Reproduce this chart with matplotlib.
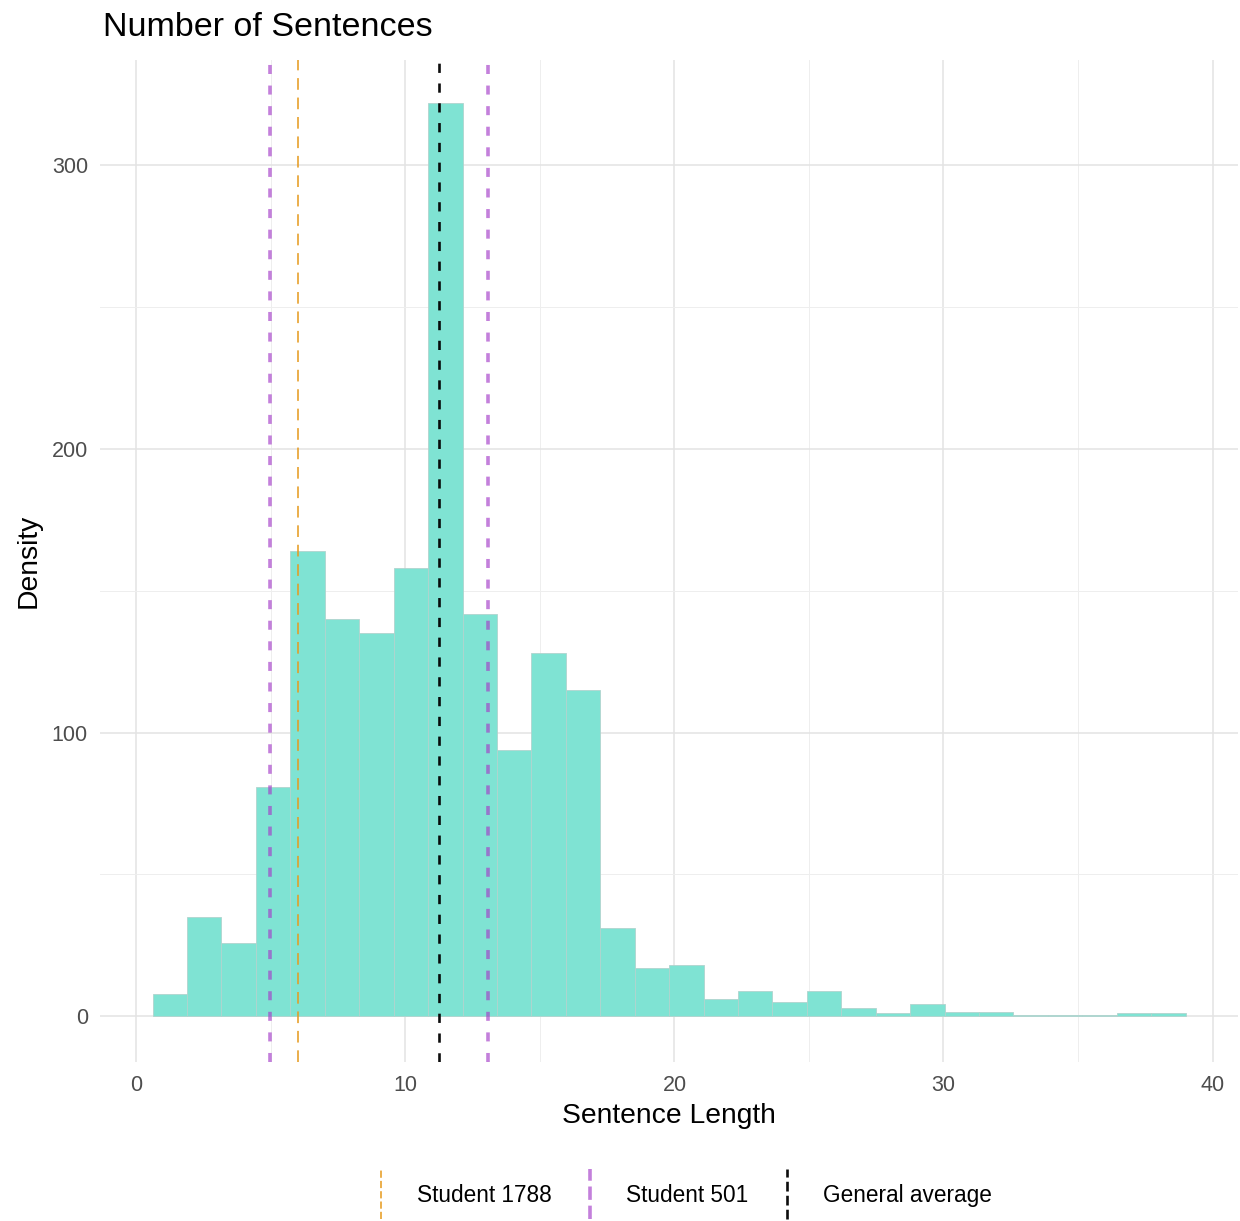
import matplotlib.pyplot as plt
import numpy as np
from matplotlib.legend_handler import HandlerBase
from matplotlib.lines import Line2D

plt.rcParams['font.family'] = ['Liberation Sans', 'DejaVu Sans']

# Histogram data
bin_lo = 0.6
bin_hi = 39.0
density = [8, 35, 26, 81, 164, 140, 135, 158, 322, 142,
           94, 128, 115, 31, 17, 18, 6, 9, 5, 9,
           3, 1, 4.5, 1.5, 1.5, 0.5, 0.5, 0.5, 1.3, 1.3]

# Reference lines
line_names = ["Student 1788", "Student 501", "General average"]
student_1788 = [6.02]
student_501 = [4.98, 13.05]
general_avg = [11.23]

x_ticks = [0, 10, 20, 30, 40]
y_ticks = [0, 100, 200, 300]


class VLineHandler(HandlerBase):
  # draw the legend key as a vertical dashed line, ggplot style
  def create_artists(self, legend, orig, xd, yd, width, height, fontsize, trans):
    x = width / 2 - xd
    ln = Line2D([x, x], [-yd - 1.1 * height, -yd + 2.1 * height],
                color=orig.get_color(), linestyle=orig.get_linestyle(),
                linewidth=orig.get_linewidth(), alpha=orig.get_alpha())
    ln.set_transform(trans)
    return [ln]


fig = plt.figure(figsize=(12.4, 12.21), dpi=100)
ax = fig.add_axes([0.081, 0.130, 0.917, 0.821])

edges = np.linspace(bin_lo, bin_hi, len(density) + 1)
ax.bar(edges[:-1], density, width=np.diff(edges), align="edge",
       color="#7FE3D3", edgecolor="#B0D4CE", linewidth=0.6, zorder=2)

styles = {
  "Student 1788": dict(color="#E69A1E", linestyle=(0, (6, 4)), linewidth=1.4, alpha=0.8),
  "Student 501": dict(color="#A43CC8", linestyle=(0, (2.5, 3.2)), linewidth=2.6, alpha=0.65),
  "General average": dict(color="black", linestyle=(0, (3.5, 4)), linewidth=1.9, alpha=0.95),
}
handles = []
for name, xs in zip(line_names, [student_1788, student_501, general_avg]):
  for xv in xs:
    ax.axvline(xv, zorder=3, **styles[name])
  handles.append(Line2D([], [], **styles[name]))

ax.set_xlim(-1.34, 40.93)
ax.set_ylim(-16.2, 337.2)
ax.set_xticks(x_ticks)
ax.set_yticks(y_ticks)
ax.set_xticks([5, 15, 25, 35], minor=True)
ax.set_yticks([50, 150, 250], minor=True)
ax.grid(True, which="major", color="#E3E3E3", linewidth=1.1, zorder=0)
ax.grid(True, which="minor", color="#EEEEEE", linewidth=0.7, zorder=0)
ax.set_axisbelow(True)
for s in ax.spines.values():
  s.set_visible(False)
ax.tick_params(which="both", length=0, labelsize=15.5, labelcolor="#4D4D4D")
ax.tick_params(axis="x", pad=9)
ax.tick_params(axis="y", pad=9)

ax.set_xlabel("Sentence Length", fontsize=20.3, labelpad=5)
ax.set_ylabel("Density", fontsize=20.3, labelpad=7)
ax.set_title("Number of Sentences", fontsize=24.5, loc="left", x=0.002, pad=17)

fig.legend(handles, line_names, loc="center", bbox_to_anchor=(0.549, 0.021),
           ncol=3, frameon=False, fontsize=16.3, handlelength=1.0,
           columnspacing=1.2, handletextpad=1.1,
           handler_map={Line2D: VLineHandler()})

fig.savefig("out.png", dpi=100, facecolor="white")
